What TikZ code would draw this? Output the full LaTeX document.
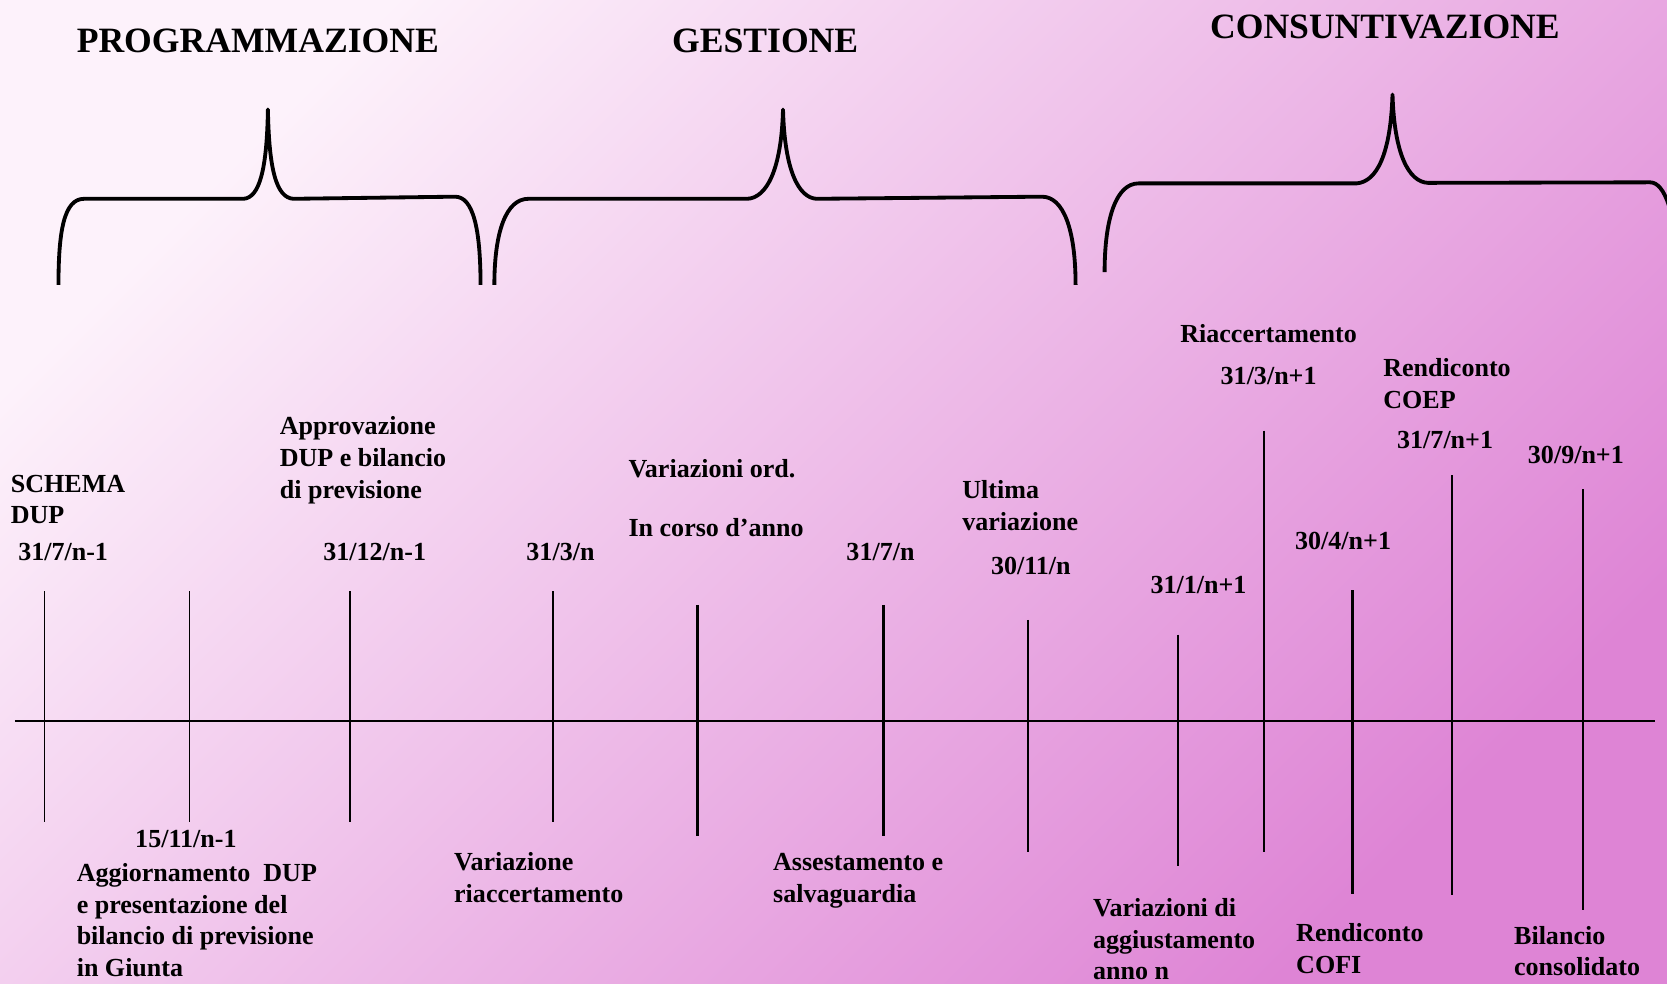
\documentclass[tikz,border=0pt]{standalone}
\usepackage{fontspec}
\setmainfont{Liberation Serif}
\newcommand\mylines[1]{\vtop{\baselineskip=29.8pt\lineskiplimit=-10pt\halign{##\hfil\cr #1\crcr}}}
\definecolor{bgA}{HTML}{FDF2FB}
\definecolor{bgB}{HTML}{DE84D5}
\begin{document}
\begin{tikzpicture}[x=1pt,y=-1pt,
  lbl/.style={anchor=base west,inner sep=0pt,font=\fontsize{24.5}{29.8}\selectfont\bfseries},
  ttl/.style={anchor=base west,inner sep=0pt,font=\fontsize{33.5}{40}\selectfont\bfseries},
  brace/.style={line width=3.6pt,line join=round},
  thintick/.style={line width=1.3pt},
  tick/.style={line width=2.3pt},
  axisline/.style={line width=1.7pt}]
\useasboundingbox (0,0) rectangle (1568,925);
\shade[top color=bgA,bottom color=bgB,shading angle=45] (0,0) rectangle (1568,925);
\begin{scope}
\clip (0,0) rectangle (1568,925);
% titles
\node[ttl] (prog) at (72,49) {PROGRAMMAZIONE};
\node[ttl] (gest) at (632,49) {GESTIONE};
\node[ttl] (cons) at (1138,36) {CONSUNTIVAZIONE};
% braces
\draw[brace] (55,268) .. controls (55,218) and (60,187) .. (79,187) -- (229,187)
  .. controls (244,186) and (251,160) .. (252,103)
  .. controls (253,160) and (260,186) .. (276,187) -- (428,185)
  .. controls (445,185) and (452,215) .. (452,268);
\draw[brace] (465,268) .. controls (465,218) and (476,187) .. (497,187) -- (703,187)
  .. controls (721,186) and (735,160) .. (736.5,103)
  .. controls (738,160) and (751,186) .. (768,187) -- (980,185)
  .. controls (1000,185) and (1011.7,215) .. (1011.7,268);
\draw[brace] (1039,256) .. controls (1039,205) and (1050,172.5) .. (1071,172.5) -- (1276,172.5)
  .. controls (1295,171) and (1308,145) .. (1309.8,89)
  .. controls (1311.5,145) and (1325,171) .. (1343,172) -- (1552,171.5)
  .. controls (1566,171.5) and (1576,200) .. (1580,260);
% axis
\coordinate (axL) at (14,678);
\coordinate (axR) at (1557,678);
\draw[axisline] (axL) -- (axR);
% ticks
\draw[thintick] (42,556) -- (42,773);
\draw[thintick] (178,556) -- (178,773);
\draw[tick] (329,556) -- (329,773);
\draw[tick] (520,556) -- (520,773);
\draw[tick] (656,569) -- (656,786);
\draw[tick] (831,569) -- (831,786);
\draw[tick] (967,583) -- (967,801);
\draw[tick] (1108,597) -- (1108,815);
\draw[tick] (1189,405) -- (1189,801);
\draw[tick] (1272,555) -- (1272,841);
\draw[tick] (1366,447) -- (1366,842);
\draw[tick] (1489,460) -- (1489,856);
% programmazione labels
\node[lbl] (schema) at (10,463) {\mylines{SCHEMA\cr DUP}};
\node[lbl] (d1) at (17,527) {31/7/n-1};
\node[lbl] (approv) at (263,409) {\mylines{Approvazione\cr DUP e bilancio\cr di previsione}};
\node[lbl] (d3) at (304,527) {31/12/n-1};
\node[lbl] (d2) at (127,797) {15/11/n-1};
\node[lbl] (aggiorn) at (72,829) {\mylines{Aggiornamento\ \ DUP\cr e presentazione del\cr bilancio di previsione\cr in Giunta}};
% gestione labels
\node[lbl] (d4) at (495,527) {31/3/n};
\node[lbl] (varord) at (591,449) {Variazioni ord.};
\node[lbl] (corso) at (591,505) {In corso d’anno};
\node[lbl] (d6) at (796,527) {31/7/n};
\node[lbl] (ultima) at (905,469) {\mylines{Ultima\cr variazione}};
\node[lbl] (d7) at (932,540) {30/11/n};
\node[lbl] (varriac) at (427,819) {\mylines{Variazione\cr riaccertamento}};
\node[lbl] (assest) at (727,819) {\mylines{Assestamento e\cr salvaguardia}};
% consuntivazione labels
\node[lbl] (riacc) at (1110,322) {Riaccertamento};
\node[lbl] (d9) at (1148,362) {31/3/n+1};
\node[lbl] (coep) at (1301,354) {\mylines{Rendiconto\cr COEP}};
\node[lbl] (d11) at (1314,422) {31/7/n+1};
\node[lbl] (d12) at (1437,436) {30/9/n+1};
\node[lbl] (d10) at (1218,517) {30/4/n+1};
\node[lbl] (d8) at (1082,558) {31/1/n+1};
\node[lbl] (aggiust) at (1028,862) {\mylines{Variazioni di\cr aggiustamento\cr anno n}};
\node[lbl] (cofi) at (1219,886) {\mylines{Rendiconto\cr COFI}};
\node[lbl] (bilcons) at (1424,888) {\mylines{Bilancio\cr consolidato}};
\end{scope}
\end{tikzpicture}
\end{document}
